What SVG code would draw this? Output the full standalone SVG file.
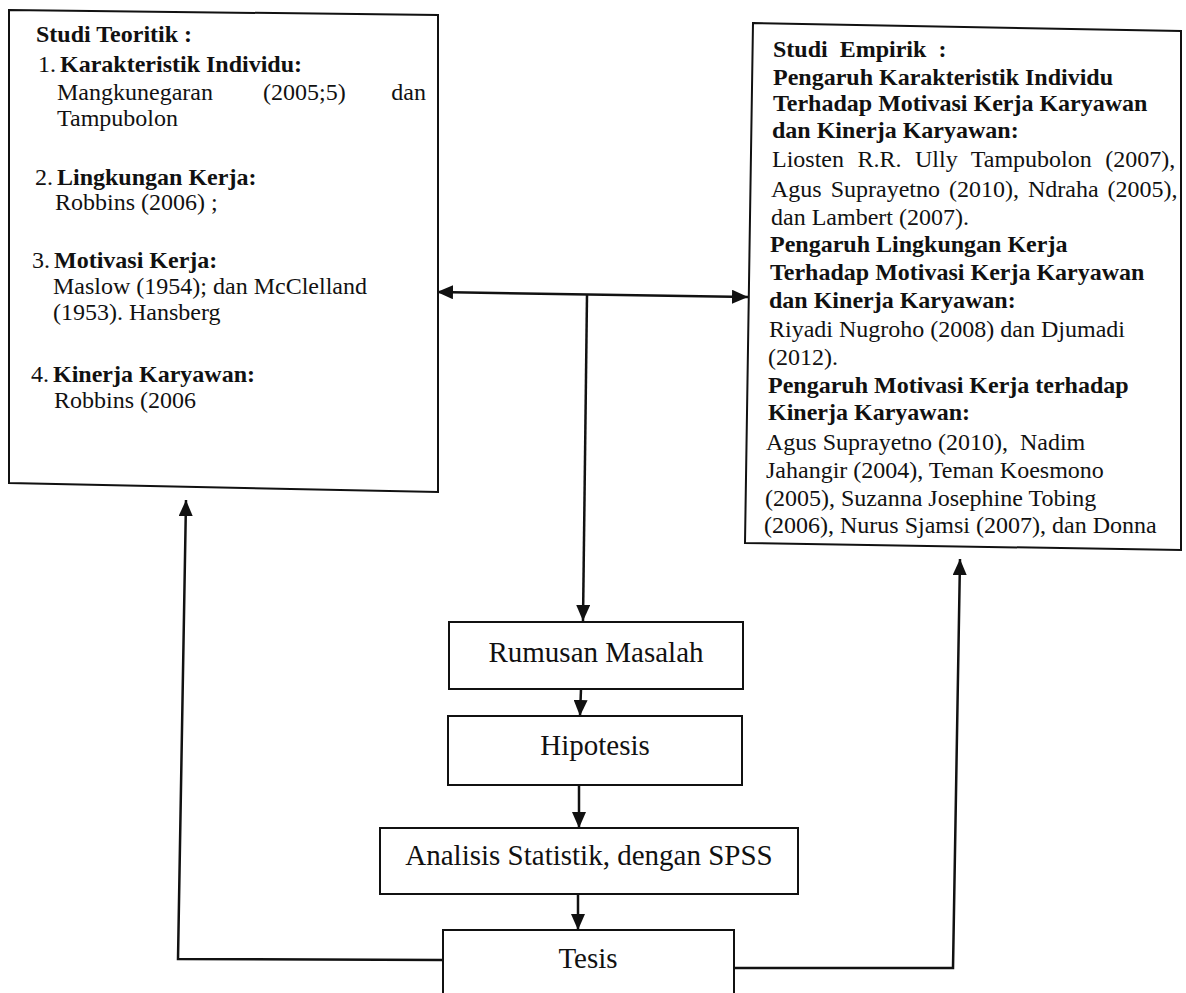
<svg xmlns="http://www.w3.org/2000/svg" width="1186" height="993" viewBox="0 0 1186 993">
  <style>
    .box { fill: #fff; stroke: #111; stroke-width: 2; }
    .link { fill: none; stroke: #111; stroke-width: 2.5; }
    text { font-family: "Liberation Serif", "Times New Roman", serif; fill: #111; }
    .b { font-weight: bold; font-size: 24px; }
    .r { font-size: 24px; }
    .big { font-size: 29px; text-anchor: middle; }
  </style>
  <defs>
    <marker id="arrow" markerUnits="userSpaceOnUse" markerWidth="16" markerHeight="14" refX="16" refY="7" orient="auto-start-reverse">
      <path d="M0,0 L16,7 L0,14 z" fill="#111"/>
    </marker>
  </defs>
  <rect width="1186" height="993" fill="#fff"/>

  <!-- Studi Teoritik -->
  <g id="studi-teoritik">
    <polygon class="box" points="9,10 438,15 438,492 9,483"/>
    <text class="b" x="36" y="42">Studi Teoritik :</text>
    <text class="r" x="38" y="72">1.</text>
    <text class="b" x="60" y="72">Karakteristik Individu:</text>
    <text class="r" x="57" y="100">Mangkunegaran</text>
    <text class="r" x="263" y="100">(2005;5)</text>
    <text class="r" x="426" y="100" text-anchor="end">dan</text>
    <text class="r" x="57" y="126">Tampubolon</text>
    <text class="r" x="35" y="185">2.</text>
    <text class="b" x="57" y="185">Lingkungan Kerja:</text>
    <text class="r" x="55" y="210">Robbins (2006) ;</text>
    <text class="r" x="32" y="268">3.</text>
    <text class="b" x="54" y="268">Motivasi Kerja:</text>
    <text class="r" x="53" y="294">Maslow (1954); dan McClelland</text>
    <text class="r" x="53" y="320">(1953). Hansberg</text>
    <text class="r" x="31" y="382">4.</text>
    <text class="b" x="53" y="382">Kinerja Karyawan:</text>
    <text class="r" x="54" y="408">Robbins (2006</text>
  </g>

  <!-- Studi Empirik -->
  <g id="studi-empirik">
    <polygon class="box" points="753,23 1181,31 1181,550 745,543"/>
    <text class="b" x="773" y="57" style="white-space:pre">Studi  Empirik  :</text>
    <text class="b" x="773" y="85">Pengaruh Karakteristik Individu</text>
    <text class="b" x="773" y="111">Terhadap Motivasi Kerja Karyawan</text>
    <text class="b" x="772" y="138">dan Kinerja Karyawan:</text>
    <text class="r" x="772" y="167" word-spacing="7.5">Liosten R.R. Ully Tampubolon (2007),</text>
    <text class="r" x="771" y="197" word-spacing="3">Agus Suprayetno (2010), Ndraha (2005),</text>
    <text class="r" x="771" y="225">dan Lambert (2007).</text>
    <text class="b" x="770" y="252">Pengaruh Lingkungan Kerja</text>
    <text class="b" x="770" y="280">Terhadap Motivasi Kerja Karyawan</text>
    <text class="b" x="769" y="308">dan Kinerja Karyawan:</text>
    <text class="r" x="769" y="337">Riyadi Nugroho (2008) dan Djumadi</text>
    <text class="r" x="768" y="365">(2012).</text>
    <text class="b" x="768" y="393">Pengaruh Motivasi Kerja terhadap</text>
    <text class="b" x="768" y="420">Kinerja Karyawan:</text>
    <text class="r" x="766" y="450" style="white-space:pre">Agus Suprayetno (2010),  Nadim</text>
    <text class="r" x="766" y="478">Jahangir (2004), Teman Koesmono</text>
    <text class="r" x="765" y="506">(2005), Suzanna Josephine Tobing</text>
    <text class="r" x="764" y="533">(2006), Nurus Sjamsi (2007), dan Donna</text>
  </g>

  <!-- Flow steps -->
  <g id="rumusan-masalah">
    <rect class="box" x="449" y="622" width="294" height="67"/>
    <text class="big" x="596" y="662">Rumusan Masalah</text>
  </g>
  <g id="hipotesis">
    <rect class="box" x="448" y="716" width="294" height="69"/>
    <text class="big" x="595" y="755">Hipotesis</text>
  </g>
  <g id="analisis-statistik">
    <rect class="box" x="380" y="828" width="418" height="66"/>
    <text class="big" x="589" y="865">Analisis Statistik, dengan SPSS</text>
  </g>
  <g id="tesis">
    <rect class="box" x="443" y="930" width="291" height="80"/>
    <text class="big" x="588" y="968">Tesis</text>
  </g>

  <!-- Connectors -->
  <g id="connectors">
    <line class="link" x1="437" y1="292" x2="748" y2="297" marker-start="url(#arrow)" marker-end="url(#arrow)"/>
    <line class="link" x1="587" y1="295" x2="583" y2="621" marker-end="url(#arrow)"/>
    <line class="link" x1="581" y1="689" x2="580" y2="716" marker-end="url(#arrow)"/>
    <line class="link" x1="579" y1="786" x2="579" y2="828" marker-end="url(#arrow)"/>
    <line class="link" x1="578" y1="894" x2="578" y2="930" marker-end="url(#arrow)"/>
    <polyline class="link" points="443,960 178,959 186,500" marker-end="url(#arrow)"/>
    <polyline class="link" points="734,968 953,968 960,559" marker-end="url(#arrow)"/>
  </g>
</svg>
